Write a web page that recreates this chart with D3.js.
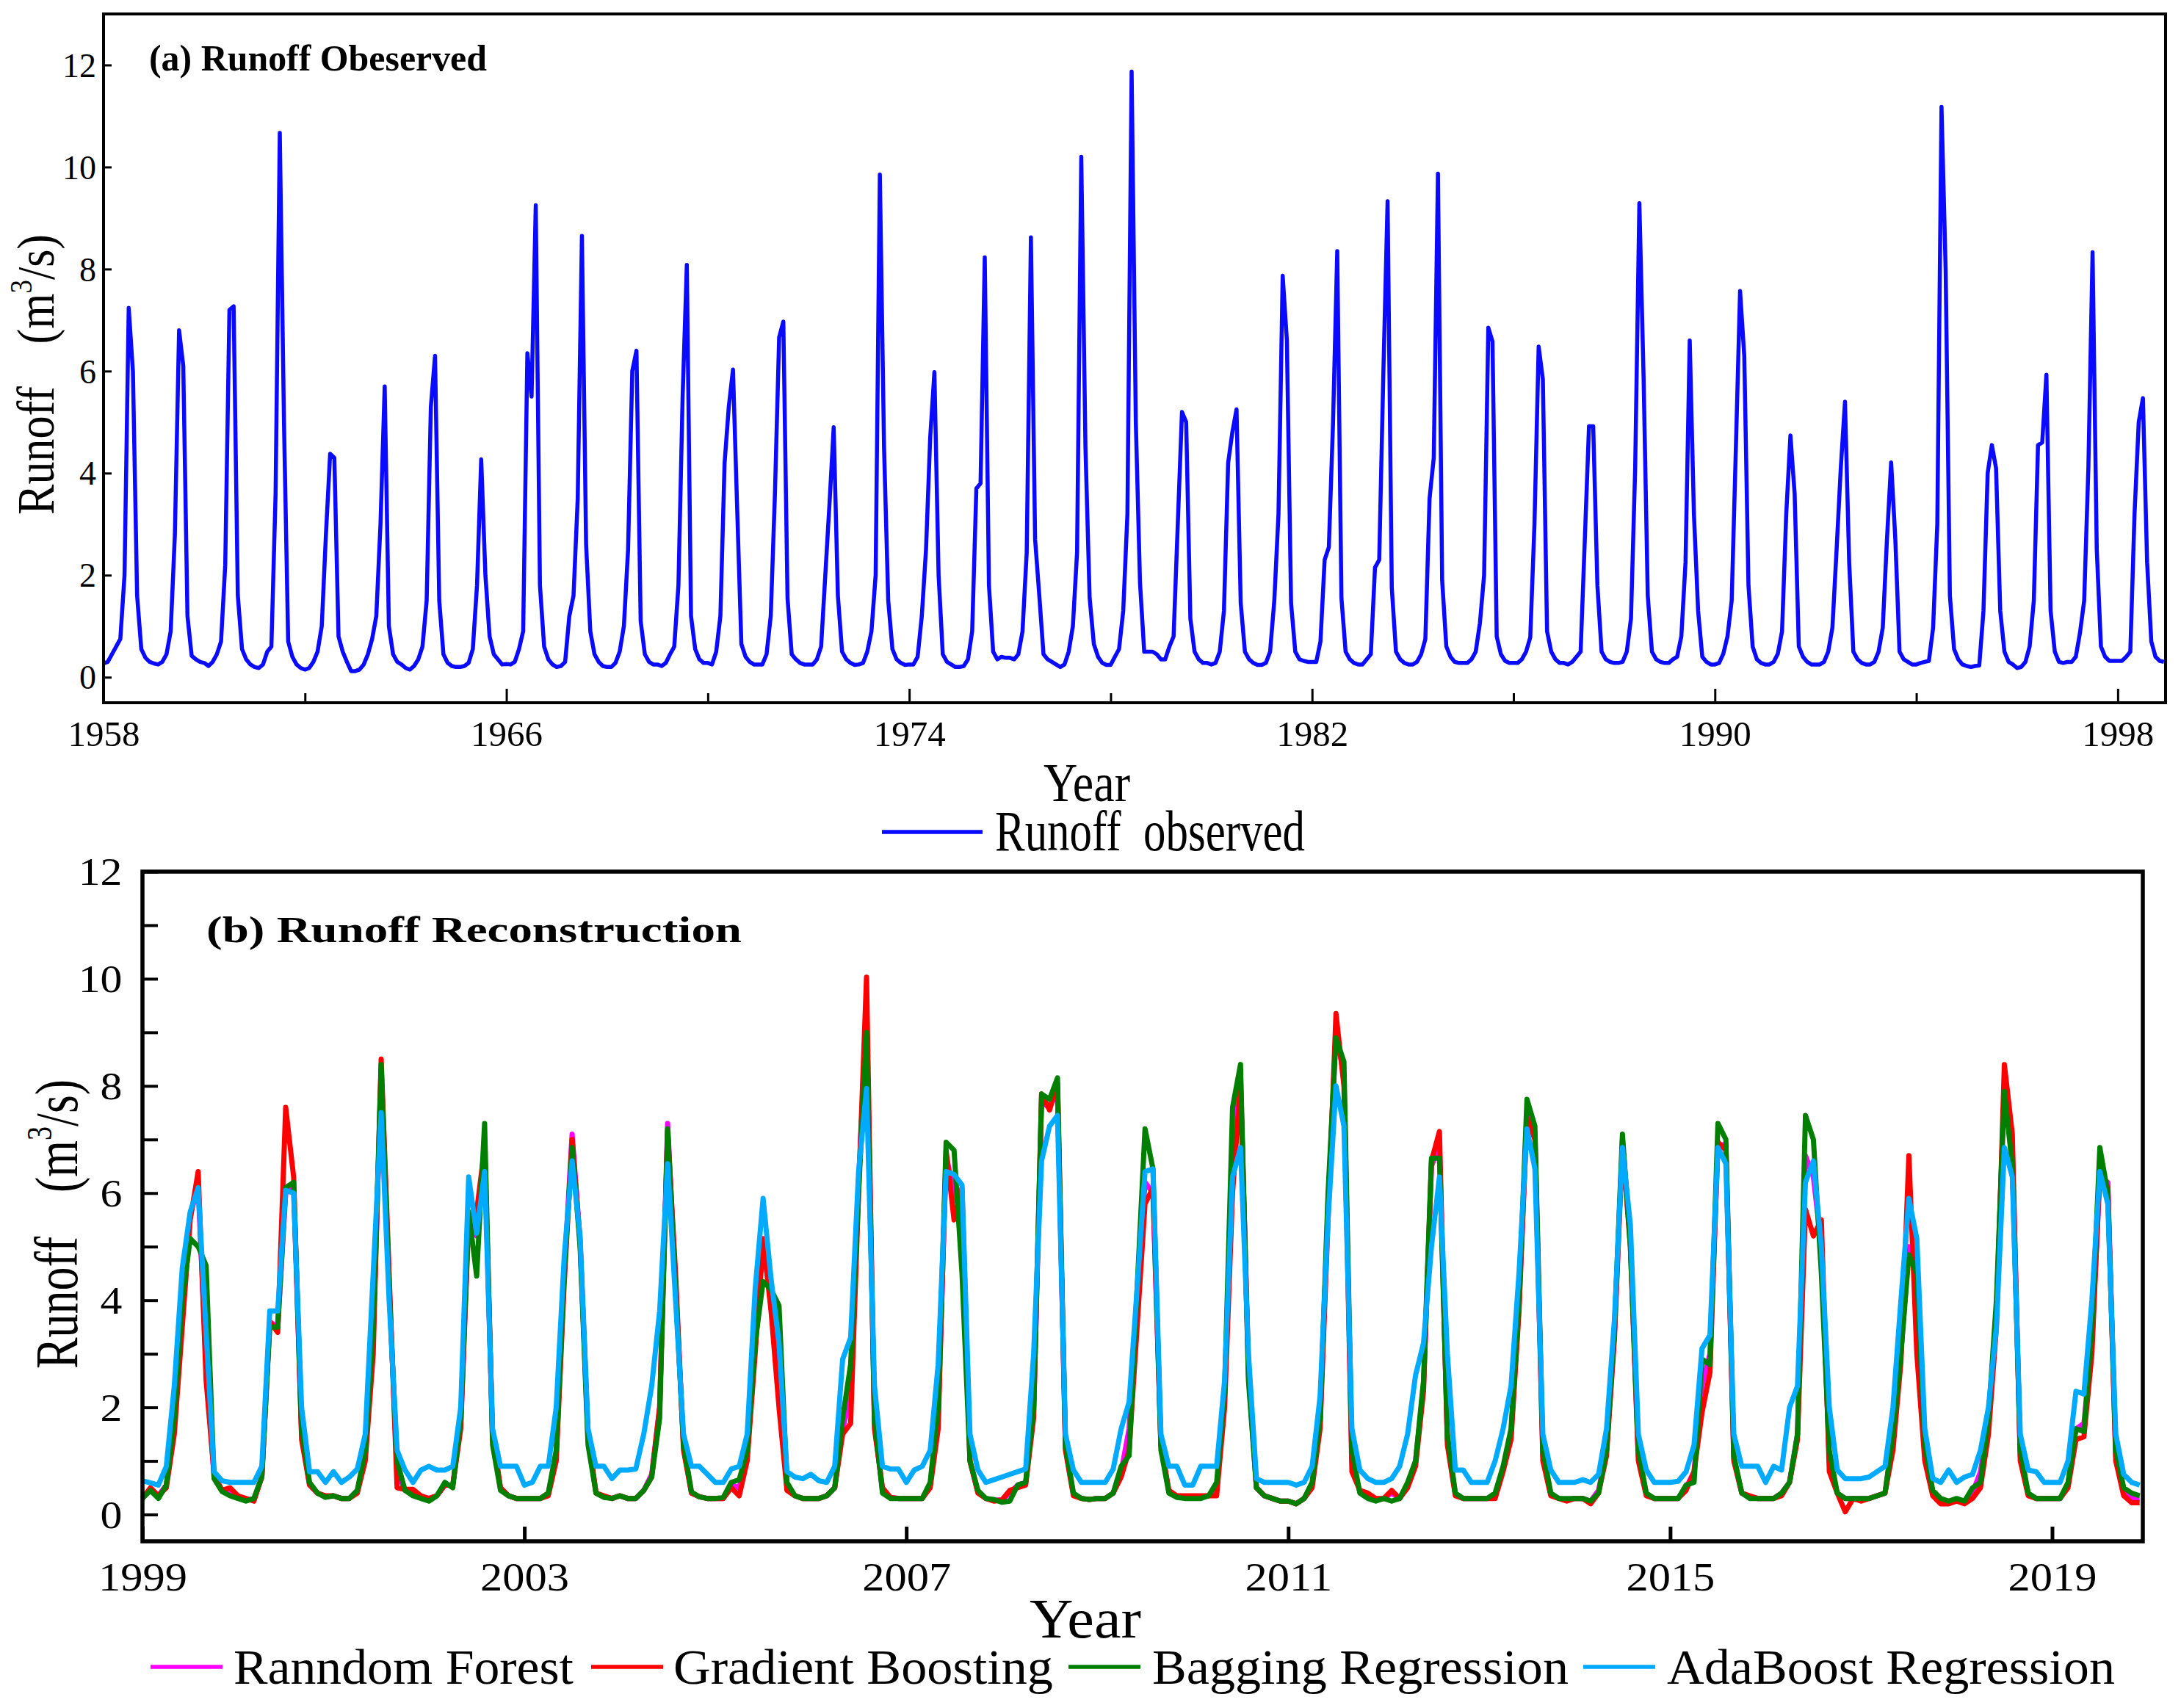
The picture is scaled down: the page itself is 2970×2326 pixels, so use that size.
<!DOCTYPE html>
<html>
<head>
  <meta charset="UTF-8">
  <title>Runoff observed and reconstructed</title>
  <script src="https://d3js.org/d3.v7.min.js"></script>
  <style>
    body { margin: 0; padding: 0; background-color: #ffffff; }
    svg { display: block; font-family: "Times New Roman", "Liberation Serif", serif; }
  </style>
</head>
<body>
  <svg id="chart" width="2970" height="2326"></svg>
  <script>
    // ---- data: monthly runoff (m3/s), Jan..Dec per row ----
    const obsStart = 1958;
    const obsRunoff = [
      0.27,0.30,0.45,0.60,0.75,2.00,7.24,6.00,1.60,0.55,0.38,0.30, // 1958
      0.27,0.25,0.30,0.45,0.90,2.80,6.80,6.10,1.20,0.42,0.35,0.30,
      0.28,0.22,0.30,0.45,0.70,2.20,7.20,7.27,1.60,0.55,0.35,0.25, // 1960
      0.20,0.18,0.25,0.50,0.60,3.60,10.67,5.00,0.70,0.40,0.25,0.18,
      0.15,0.18,0.30,0.50,1.00,2.80,4.38,4.30,0.80,0.50,0.30,0.12,
      0.12,0.15,0.25,0.45,0.75,1.20,3.00,5.70,1.00,0.45,0.30,0.25,
      0.18,0.15,0.22,0.35,0.60,1.50,5.30,6.30,1.50,0.45,0.28,0.22,
      0.20,0.20,0.22,0.28,0.55,1.80,4.27,2.00,0.80,0.45,0.35,0.25, // 1965
      0.26,0.25,0.30,0.55,0.90,6.35,5.50,9.25,1.80,0.60,0.35,0.25,
      0.20,0.22,0.30,1.20,1.60,3.50,8.65,2.60,0.90,0.45,0.30,0.22,
      0.20,0.20,0.28,0.50,1.00,2.50,6.00,6.40,1.10,0.45,0.30,0.25,
      0.25,0.22,0.28,0.45,0.60,1.80,5.50,8.08,1.20,0.55,0.35,0.28,
      0.28,0.25,0.50,1.20,4.20,5.30,6.03,3.30,0.65,0.40,0.30,0.25, // 1970
      0.25,0.25,0.45,1.20,3.60,6.66,6.97,1.55,0.45,0.35,0.28,0.25,
      0.25,0.25,0.35,0.60,2.00,3.40,4.90,1.60,0.50,0.35,0.28,0.24,
      0.25,0.28,0.50,0.90,2.00,9.85,4.50,1.50,0.55,0.35,0.28,0.24,
      0.25,0.25,0.40,1.20,2.50,4.70,5.98,2.00,0.45,0.30,0.25,0.20,
      0.20,0.22,0.35,0.90,3.70,3.80,8.23,1.80,0.50,0.35,0.40,0.38, // 1975
      0.38,0.35,0.45,0.90,2.45,8.62,2.70,1.60,0.45,0.35,0.30,0.25,
      0.20,0.25,0.50,1.00,2.45,10.20,4.50,1.55,0.65,0.40,0.28,0.24,
      0.24,0.40,0.55,1.30,3.20,11.87,5.00,1.85,0.50,0.50,0.50,0.45,
      0.35,0.35,0.60,0.80,3.00,5.20,5.00,1.15,0.50,0.35,0.28,0.28,
      0.25,0.28,0.50,1.30,4.20,4.80,5.25,1.45,0.50,0.35,0.28,0.24, // 1980
      0.24,0.28,0.50,1.50,3.20,7.87,6.60,1.45,0.50,0.35,0.32,0.30,
      0.30,0.30,0.70,2.30,2.55,5.00,8.35,1.55,0.50,0.35,0.28,0.25,
      0.25,0.35,0.45,2.15,2.30,6.00,9.33,1.75,0.50,0.35,0.28,0.25,
      0.25,0.30,0.45,0.75,3.50,4.30,9.87,1.90,0.60,0.40,0.30,0.28,
      0.28,0.28,0.35,0.50,1.06,2.00,6.85,6.58,0.80,0.45,0.32,0.28, // 1985
      0.28,0.28,0.35,0.50,0.78,3.00,6.48,5.84,0.90,0.50,0.35,0.28,
      0.28,0.25,0.30,0.40,0.50,2.70,4.92,4.92,1.80,0.50,0.35,0.30,
      0.28,0.28,0.30,0.50,1.15,4.10,9.29,5.90,1.60,0.50,0.35,0.30,
      0.28,0.28,0.35,0.40,0.80,2.25,6.60,3.20,1.30,0.40,0.30,0.25,
      0.25,0.28,0.46,0.80,1.50,4.50,7.57,6.30,1.80,0.60,0.35,0.28, // 1990
      0.25,0.25,0.30,0.46,0.90,3.20,4.74,3.60,0.60,0.40,0.30,0.25,
      0.25,0.25,0.30,0.50,0.97,2.50,4.10,5.40,2.25,0.50,0.35,0.28,
      0.25,0.25,0.30,0.50,0.97,2.70,4.21,2.70,0.50,0.35,0.30,0.25,
      0.25,0.28,0.30,0.32,0.97,3.00,11.18,7.96,1.60,0.55,0.35,0.25,
      0.22,0.20,0.22,0.23,1.30,4.00,4.55,4.10,1.30,0.50,0.30,0.25, // 1995
      0.18,0.20,0.30,0.60,1.50,4.55,4.60,5.93,1.30,0.50,0.30,0.28,
      0.30,0.30,0.40,0.87,1.50,4.10,8.33,2.50,0.60,0.40,0.32,0.32,
      0.32,0.32,0.40,0.50,3.20,5.00,5.47,2.25,0.70,0.40,0.32,0.30  // 1998
    ];

    const recStart = 1999;
    const rfRunoff = [
      .35,.45,.35,.55,1.8,3.8,5.6,6.1,2.8,.7,.45,.45,   // 1999
      .33,.28,.28,.7,3.6,3.5,6.0,6.1,1.5,.55,.4,.33,
      .35,.3,.3,.45,1.1,3.3,8.3,4.3,.8,.45,.4,.32,
      .3,.35,.55,.55,1.7,5.6,5.2,6.9,1.4,.48,.35,.3,
      .3,.3,.3,.4,1.1,4.5,7.1,5.1,1.4,.4,.33,.3,
      .35,.3,.3,.45,.75,2.0,7.3,4.3,1.3,.4,.33,.3,
      .3,.3,.55,.5,1.1,3.2,5.0,4.0,2.5,.5,.35,.3,
      .3,.3,.35,.5,1.6,2.2,6.2,9.3,1.7,.45,.32,.3,
      .3,.3,.3,.55,1.8,6.7,6.0,5.6,1.0,.42,.3,.27,
      .27,.4,.55,.6,1.9,7.7,7.6,7.9,1.25,.38,.3,.28,
      .3,.3,.4,.8,1.6,4.0,6.2,6.0,1.3,.42,.33,.32,
      .33,.33,.35,.5,2.2,6.8,8.2,2.6,.5,.35,.3,.25,
      .25,.2,.3,.55,1.7,5.8,9.0,8.2,1.0,.42,.35,.28,
      .3,.4,.3,.55,1.0,2.4,6.5,6.9,1.4,.38,.3,.3,
      .3,.3,.35,.85,1.5,3.9,7.5,7.1,1.1,.38,.3,.28,
      .3,.3,.25,.45,1.2,3.4,7.0,5.1,1.1,.38,.3,.3,
      .3,.3,.5,.8,2.4,3.0,6.9,6.9,1.05,.4,.33,.3,
      .3,.3,.4,.6,1.5,6.7,6.3,5.0,1.0,.4,.3,.3,
      .3,.3,.35,.4,1.4,3.0,5.0,4.6,1.2,.4,.25,.25,
      .25,.25,.4,.8,1.7,3.8,8.0,6.8,1.1,.38,.3,.3,
      .3,.3,.55,1.6,1.7,3.2,6.3,6.2,1.1,.4,.3,.3      // 2019
    ];
    const gbRunoff = [
      .3,.5,.35,.5,1.5,3.5,5.5,6.4,2.5,.75,.45,.5,
      .35,.3,.25,.7,3.6,3.4,7.6,6.3,1.4,.55,.4,.35,
      .35,.3,.3,.4,1.0,3.0,8.5,4.5,.5,.47,.47,.35,
      .3,.35,.55,.55,1.6,5.5,5.65,6.85,1.5,.5,.35,.3,
      .3,.3,.3,.35,1.0,4.3,7.0,5.1,1.5,.4,.35,.3,
      .35,.3,.3,.45,.7,2.0,7.15,4.5,1.2,.4,.33,.3,
      .3,.3,.5,.35,1.0,3.0,5.15,3.8,2.0,.45,.35,.3,
      .3,.3,.35,.5,1.5,1.7,6.0,10.03,1.6,.5,.32,.3,
      .3,.3,.3,.5,1.6,6.8,5.5,6.1,1.0,.4,.3,.25,
      .27,.45,.5,.55,1.8,7.85,7.55,8.05,1.2,.35,.3,.28,
      .3,.3,.4,.7,1.2,3.5,5.8,6.1,1.3,.45,.35,.35,
      .35,.35,.35,.35,2.0,6.0,8.05,2.8,.5,.35,.3,.25,
      .25,.2,.3,.5,1.6,5.5,9.35,8.0,.8,.45,.4,.3,
      .3,.45,.3,.5,.9,2.3,6.6,7.15,1.3,.35,.3,.3,
      .3,.3,.3,.8,1.4,3.8,7.4,7.0,1.0,.35,.3,.25,
      .3,.3,.2,.4,1.1,3.3,6.9,5.0,1.0,.35,.3,.3,
      .3,.3,.45,.8,1.9,2.65,6.95,6.8,1.0,.4,.35,.3,
      .3,.3,.35,.6,1.4,5.7,5.2,5.5,.8,.4,.05,.3,
      .25,.3,.35,.4,1.2,2.85,6.7,3.0,1.0,.35,.2,.2,
      .25,.2,.3,.5,1.5,3.5,8.4,7.1,1.0,.35,.3,.3,
      .3,.3,.5,1.4,1.45,3.0,6.4,6.1,1.0,.35,.22,.22
    ];
    const bagRunoff = [
      .3,.45,.3,.55,1.8,4.0,5.15,5.0,4.65,.67,.43,.35,
      .3,.25,.3,.7,3.5,3.5,6.1,6.2,1.6,.6,.4,.32,
      .35,.3,.3,.45,1.2,3.5,8.4,4.2,1.0,.45,.35,.3,
      .25,.35,.6,.5,1.8,5.65,4.45,7.3,1.3,.45,.35,.3,
      .3,.3,.3,.4,1.2,4.5,6.85,5.0,1.3,.4,.32,.3,
      .35,.3,.3,.45,.7,1.8,7.2,4.2,1.3,.42,.33,.3,
      .3,.32,.6,.65,1.2,3.2,4.35,4.2,3.9,.6,.35,.3,
      .3,.3,.35,.5,1.8,2.8,6.0,9.0,1.8,.4,.3,.3,
      .3,.3,.3,.6,2.0,6.95,6.8,4.5,1.0,.45,.3,.28,
      .23,.25,.55,.6,2.0,7.85,7.75,8.15,1.3,.4,.3,.28,
      .3,.3,.4,.9,1.1,4.2,7.2,6.45,1.2,.4,.32,.3,
      .3,.3,.35,.6,2.3,7.6,8.4,2.5,.5,.35,.3,.25,
      .25,.2,.3,.6,1.8,6.0,8.9,8.45,1.2,.4,.3,.25,
      .3,.25,.3,.6,1.0,2.5,6.65,6.65,1.5,.4,.3,.3,
      .3,.3,.4,.9,1.6,4.0,7.75,7.25,1.2,.4,.3,.3,
      .3,.3,.25,.4,1.2,3.5,7.1,5.0,1.2,.4,.3,.3,
      .3,.3,.55,.6,2.9,2.8,7.3,7.0,1.1,.4,.3,.3,
      .3,.3,.4,.6,1.5,7.45,7.0,4.5,1.2,.4,.3,.3,
      .3,.3,.35,.4,1.5,3.0,4.85,4.5,1.3,.45,.3,.25,
      .3,.25,.5,.6,1.8,4.0,7.9,6.5,1.2,.4,.3,.3,
      .3,.3,.6,1.6,1.55,3.5,6.85,6.0,1.2,.5,.4,.35
    ];
    const adaRunoff = [
      .63,.59,.55,.9,2.4,4.6,5.65,6.1,3.4,.8,.63,.6,
      .6,.6,.6,.9,3.8,3.8,6.05,6.0,2.0,.8,.8,.6,
      .8,.6,.7,.85,1.5,4.5,7.5,4.0,1.2,.83,.6,.83,
      .9,.83,.83,.9,2.0,6.3,5.25,6.4,1.6,.9,.9,.9,
      .55,.6,.9,.9,2.0,4.8,6.6,5.2,1.6,.9,.9,.67,
      .83,.83,.85,1.5,2.4,3.8,6.55,4.0,1.5,.9,.9,.75,
      .6,.6,.85,.9,1.5,4.2,5.9,4.4,3.2,.8,.7,.67,
      .75,.63,.6,.9,2.9,3.3,6.4,7.95,2.4,.9,.85,.85,
      .6,.83,.9,1.2,2.8,6.4,6.35,6.15,1.5,.83,.6,.65,
      .7,.75,.8,.85,3.0,6.6,7.25,7.45,1.5,.83,.6,.6,
      .6,.6,.85,1.6,2.1,4.2,6.4,6.45,1.5,.9,.9,.55,
      .55,.9,.9,.9,2.5,6.3,6.85,3.0,.67,.6,.6,.6,
      .6,.55,.6,.9,2.2,5.5,8.0,7.25,1.6,.83,.67,.6,
      .6,.67,.9,1.5,2.6,3.2,5.0,6.3,3.0,.83,.83,.6,
      .6,.6,1.0,1.6,2.4,4.5,7.2,6.45,1.5,.83,.6,.6,
      .6,.65,.6,.75,1.6,3.65,6.85,5.4,1.5,.83,.6,.6,
      .6,.62,.8,1.3,3.1,3.35,6.85,6.55,1.5,.9,.9,.9,
      .6,.9,.83,2.0,2.4,6.2,6.6,5.0,2.0,.83,.67,.67,
      .67,.7,.8,.9,2.0,4.0,5.9,5.15,1.6,.67,.6,.83,
      .6,.7,.75,1.2,2.0,3.5,6.85,6.3,1.5,.83,.8,.6,
      .6,.6,1.0,2.3,2.25,4.0,6.4,5.8,1.5,.75,.6,.55
    ];

    const seriesNames = ["Ranndom Forest", "Gradient Boosting", "Bagging Regression", "AdaBoost Regression"];
    const seriesValues = [rfRunoff, gbRunoff, bagRunoff, adaRunoff];

    const obsYearTicks = [1958, 1966, 1974, 1982, 1990, 1998];
    const obsMinorTicks = [1962, 1970, 1978, 1986, 1994];
    const obsRunoffTicks = [0, 2, 4, 6, 8, 10, 12];
    const recYearTicks = [1999, 2003, 2007, 2011, 2015, 2019];
    const recRunoffTicks = [0, 2, 4, 6, 8, 10, 12];
    const recMinorTicks = [1, 3, 5, 7, 9, 11];

    // ---- styles ----
    const serif = '"Times New Roman", "Liberation Serif", serif';
    const obsColor = "#0a0aff";
    const seriesColors = ["#ff00ff", "#ff0000", "#007f00", "#00aaff"];

    const svg = d3.select("#chart");
    svg.append("rect").attr("width", 2970).attr("height", 2326).attr("fill", "#ffffff");

    // ================= panel (a) =================
    const pa = { l: 141, r: 2949, t: 19, b: 957 };
    const xa = d3.scaleLinear().domain([1958, 1998.95]).range([pa.l, pa.r]);
    const ya = d3.scaleLinear().domain([-0.5, 13]).range([pa.b, pa.t]);

    const obsPoints = obsRunoff.map(function(v, i) { return { t: obsStart + i / 12, v: v }; });
    svg.append("path")
      .datum(obsPoints)
      .attr("fill", "none")
      .attr("stroke", obsColor)
      .attr("stroke-width", 5.5)
      .attr("stroke-linejoin", "round")
      .attr("d", d3.line().x(function(d) { return xa(d.t); }).y(function(d) { return ya(d.v); }));

    const axA = svg.append("g")
      .attr("transform", `translate(0,${pa.b})`)
      .call(d3.axisBottom(xa).tickValues(obsYearTicks).tickSize(-19).tickFormat(d3.format("d")));
    axA.select(".domain").remove();
    axA.selectAll(".tick line").attr("stroke-width", 3);
    axA.selectAll("text").attr("y", 59).attr("dy", null)
      .attr("font-family", serif).attr("font-size", 49);

    const axAm = svg.append("g")
      .attr("transform", `translate(0,${pa.b})`)
      .call(d3.axisBottom(xa).tickValues(obsMinorTicks).tickSize(-13).tickFormat(""));
    axAm.select(".domain").remove();
    axAm.selectAll(".tick line").attr("stroke-width", 3);

    const ayA = svg.append("g")
      .attr("transform", `translate(${pa.l},0)`)
      .call(d3.axisLeft(ya).tickValues(obsRunoffTicks).tickSize(-11));
    ayA.select(".domain").remove();
    ayA.selectAll(".tick line").attr("stroke-width", 3);
    ayA.selectAll("text").attr("x", -10).attr("dy", "0.34em")
      .attr("font-family", serif).attr("font-size", 46);

    svg.append("rect")
      .attr("x", pa.l).attr("y", pa.t)
      .attr("width", pa.r - pa.l).attr("height", pa.b - pa.t)
      .attr("fill", "none").attr("stroke", "#000").attr("stroke-width", 4);

    svg.append("text")
      .attr("x", 203).attr("y", 96)
      .attr("font-family", serif).attr("font-weight", "bold").attr("font-size", 50)
      .attr("textLength", 460).attr("lengthAdjust", "spacingAndGlyphs")
      .text("(a) Runoff Obeserved");

    const yla = svg.append("text")
      .attr("transform", "translate(73,510) rotate(-90) scale(1,1.15)")
      .attr("text-anchor", "middle")
      .attr("font-family", serif).attr("font-size", 62);
    yla.append("tspan").text("Runoff");
    yla.append("tspan").attr("dx", 58).text("(m");
    yla.append("tspan").attr("font-size", 37).attr("dy", -26).text("3");
    yla.append("tspan").attr("dy", 26).text("/s)");

    svg.append("text")
      .attr("transform", "translate(1480,1091) scale(1,1.2)")
      .attr("text-anchor", "middle")
      .attr("font-family", serif).attr("font-size", 62)
      .attr("textLength", 118).attr("lengthAdjust", "spacingAndGlyphs")
      .text("Year");

    svg.append("line")
      .attr("x1", 1201).attr("x2", 1338).attr("y1", 1133).attr("y2", 1133)
      .attr("stroke", obsColor).attr("stroke-width", 5.5);
    svg.append("text")
      .attr("transform", "translate(1355,1158) scale(1,1.25)")
      .attr("font-family", serif).attr("font-size", 62)
      .attr("textLength", 422).attr("lengthAdjust", "spacingAndGlyphs")
      .text("Runoff\u00a0\u00a0observed");

    // ================= panel (b) =================
    const pb = { l: 194, r: 2918, t: 1187, b: 2099 };
    const xb = d3.scaleLinear().domain([1999, 2019.95]).range([pb.l, pb.r]);
    const yb = d3.scaleLinear().domain([-0.5, 12]).range([pb.b, pb.t]);

    const lineB = d3.line().x(function(d) { return xb(d.t); }).y(function(d) { return yb(d.v); });
    seriesValues.forEach(function(vals, k) {
      const pts = vals.map(function(v, i) { return { t: recStart + i / 12, v: v }; });
      svg.append("path")
        .datum(pts)
        .attr("fill", "none")
        .attr("stroke", seriesColors[k])
        .attr("stroke-width", 7)
        .attr("stroke-linejoin", "round")
        .attr("d", lineB);
    });

    const axB = svg.append("g")
      .attr("transform", `translate(0,${pb.b})`)
      .call(d3.axisBottom(xb).tickValues(recYearTicks).tickSize(-20).tickFormat(d3.format("d")));
    axB.select(".domain").remove();
    axB.selectAll(".tick line").attr("stroke-width", 5);
    axB.selectAll("text").attr("y", 67).attr("dy", null)
      .attr("transform", "scale(1.12,1)")
      .attr("font-family", serif).attr("font-size", 54);

    const ayB = svg.append("g")
      .attr("transform", `translate(${pb.l},0)`)
      .call(d3.axisLeft(yb).tickValues(recRunoffTicks).tickSize(-21));
    ayB.select(".domain").remove();
    ayB.selectAll(".tick line").attr("stroke-width", 4);
    ayB.selectAll("text").attr("x", -24).attr("dy", "0.34em")
      .attr("transform", "scale(1.15,1)")
      .attr("font-family", serif).attr("font-size", 52);

    const ayBm = svg.append("g")
      .attr("transform", `translate(${pb.l},0)`)
      .call(d3.axisLeft(yb).tickValues(recMinorTicks).tickSize(-21).tickFormat(""));
    ayBm.select(".domain").remove();
    ayBm.selectAll(".tick line").attr("stroke-width", 4);

    svg.append("rect")
      .attr("x", pb.l).attr("y", pb.t)
      .attr("width", pb.r - pb.l).attr("height", pb.b - pb.t)
      .attr("fill", "none").attr("stroke", "#000").attr("stroke-width", 5.5);

    svg.append("text")
      .attr("x", 281).attr("y", 1283)
      .attr("font-family", serif).attr("font-weight", "bold").attr("font-size", 50)
      .attr("textLength", 729).attr("lengthAdjust", "spacingAndGlyphs")
      .text("(b) Runoff Reconstruction");

    const ylb = svg.append("text")
      .attr("transform", "translate(105,1667) rotate(-90) scale(1,1.3)")
      .attr("text-anchor", "middle")
      .attr("font-family", serif).attr("font-size", 64);
    ylb.append("tspan").text("Runoff");
    ylb.append("tspan").attr("dx", 60).text("(m");
    ylb.append("tspan").attr("font-size", 38).attr("dy", -27).text("3");
    ylb.append("tspan").attr("dy", 27).text("/s)");

    svg.append("text")
      .attr("x", 1478).attr("y", 2230)
      .attr("text-anchor", "middle")
      .attr("font-family", serif).attr("font-size", 76)
      .attr("textLength", 152).attr("lengthAdjust", "spacingAndGlyphs")
      .text("Year");

    // legend (b)
    const legLineX = [205, 805, 1455, 2156];
    const legTextX = [318, 917, 1569, 2270];
    const legTextW = [463, 517, 567, 610];
    seriesNames.forEach(function(name, k) {
      svg.append("line")
        .attr("x1", legLineX[k]).attr("x2", legLineX[k] + 98)
        .attr("y1", 2270).attr("y2", 2270)
        .attr("stroke", seriesColors[k]).attr("stroke-width", 5.5);
      svg.append("text")
        .attr("x", legTextX[k]).attr("y", 2293)
        .attr("font-family", serif).attr("font-size", 68)
        .attr("textLength", legTextW[k]).attr("lengthAdjust", "spacingAndGlyphs")
        .text(name);
    });
  </script>
</body>
</html>
